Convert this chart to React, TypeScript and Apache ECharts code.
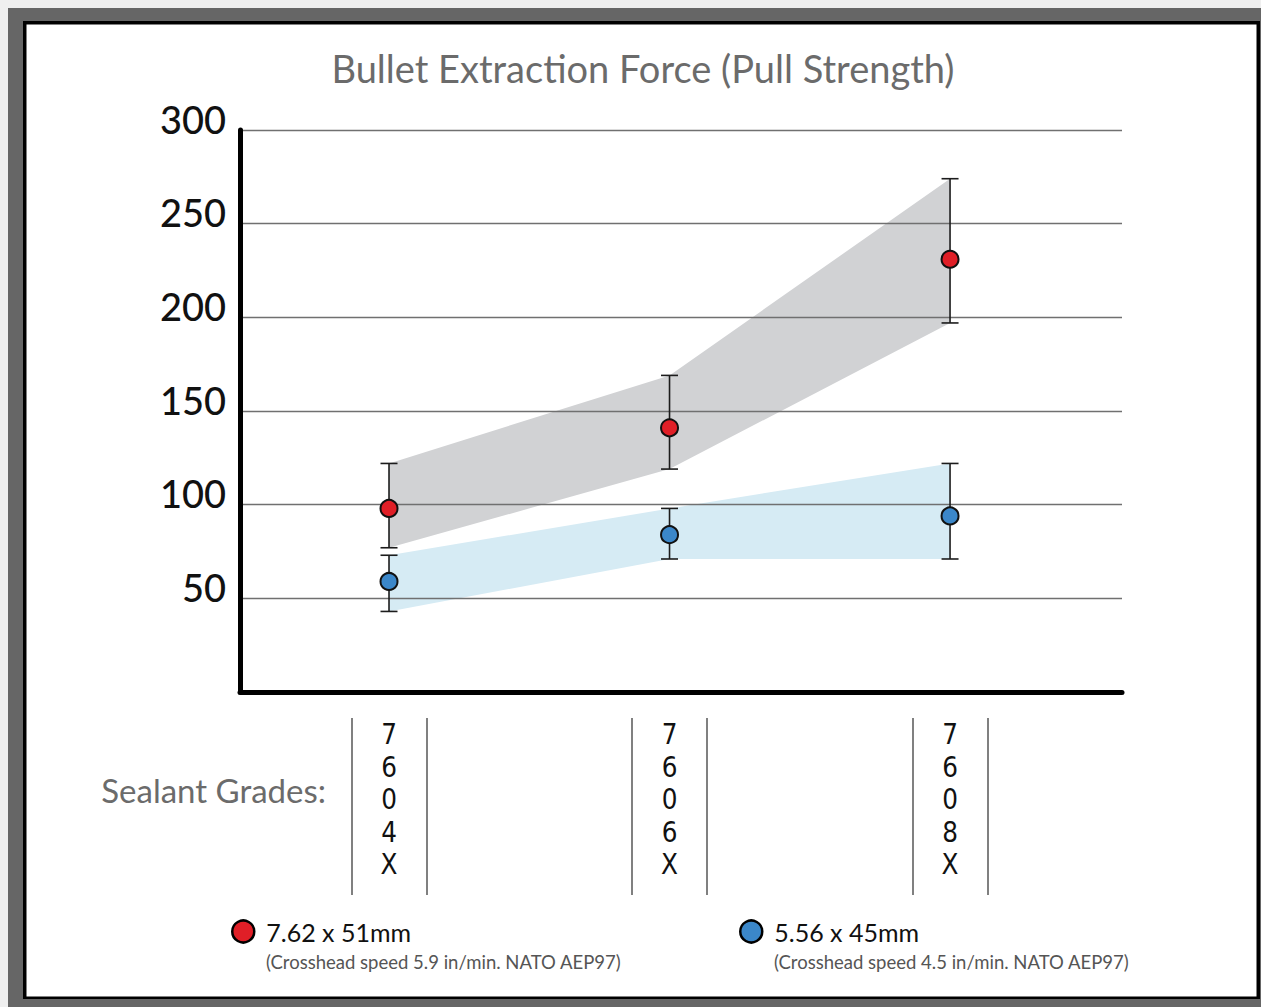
import React, { useEffect, useRef } from "react";
import * as echarts from "echarts";

// ---- data ----
const grades = ["7604X", "7606X", "7608X"];
const gradeX = [1, 2, 3];
const yTicks = [0, 50, 100, 150, 200, 250, 300];

const series762Name = "7.62 x 51mm";
const series762Note = "(Crosshead speed 5.9 in/min. NATO AEP97)";
const mean762 = [98, 141, 231];
const high762 = [122, 169, 274];
const low762 = [77, 119, 197];

const series556Name = "5.56 x 45mm";
const series556Note = "(Crosshead speed 4.5 in/min. NATO AEP97)";
const mean556 = [59, 84, 94];
const high556 = [73, 98, 122];
const low556 = [43, 71, 71];

const RED = "#e01f27";
const BLUE = "#3b87c9";
const GRAY_BAND = "#d1d2d4";
const BLUE_BAND = "#d6ebf4";
const FONT = "Lato, 'Open Sans', sans-serif";

const X_MIN = 0.4688;
const X_MAX = 3.613;
const SEP_HALF = 0.1337;

function bandSeries(low: number[], high: number[], color: string) {
  return {
    type: "custom",
    xAxisIndex: 0,
    yAxisIndex: 0,
    z: -5,
    silent: true,
    data: gradeX.map((x, i) => [x, low[i], high[i]]),
    encode: { x: 0, y: [1, 2] },
    renderItem: (params: any, api: any) => {
      if (params.dataIndex !== 0) return null;
      const top = gradeX.map((x, i) => api.coord([x, high[i]]));
      const bottom = gradeX.map((x, i) => api.coord([x, low[i]])).reverse();
      return {
        type: "polygon",
        shape: { points: [...top, ...bottom] },
        style: { fill: color },
      };
    },
  };
}

function errorSeries(low: number[], high: number[]) {
  return {
    type: "custom",
    xAxisIndex: 0,
    yAxisIndex: 0,
    z: 3,
    silent: true,
    data: gradeX.map((x, i) => [x, low[i], high[i]]),
    encode: { x: 0, y: [1, 2] },
    renderItem: (params: any, api: any) => {
      const x = api.value(0);
      const lo = api.coord([x, api.value(1)]);
      const hi = api.coord([x, api.value(2)]);
      const cap = 8.5;
      const st = { stroke: "#1c1c1c", lineWidth: 1.6 };
      return {
        type: "group",
        children: [
          { type: "line", shape: { x1: hi[0], y1: hi[1], x2: lo[0], y2: lo[1] }, style: st },
          { type: "line", shape: { x1: hi[0] - cap, y1: hi[1], x2: hi[0] + cap, y2: hi[1] }, style: st },
          { type: "line", shape: { x1: lo[0] - cap, y1: lo[1], x2: lo[0] + cap, y2: lo[1] }, style: st },
        ],
      };
    },
  };
}

function legendFor(name: string, left: number) {
  return {
    data: [name],
    left,
    top: 919,
    padding: 0,
    icon: "circle",
    itemWidth: 22,
    itemHeight: 22,
    itemStyle: { borderColor: "#000", borderWidth: 2.5 },
    textStyle: { fontSize: 25, color: "#111", fontFamily: FONT, padding: [0, 0, 0, 7] },
    selectedMode: false,
  };
}

export default function App() {
  const ref = useRef<HTMLDivElement>(null);
  useEffect(() => {
    document.body.style.margin = "0";
    const chart = echarts.init(ref.current!, null, { renderer: "svg" });
    chart.setOption({
      animation: false,
      backgroundColor: "#efefef",
      graphic: [
        { type: "rect", z: -20, silent: true, shape: { x: 8, y: 8, width: 1260, height: 1010 }, style: { fill: "#666666" } },
        { type: "rect", z: -19, silent: true, shape: { x: 23, y: 21, width: 1237, height: 978 }, style: { fill: "#000000" } },
        { type: "rect", z: -18, silent: true, shape: { x: 26.5, y: 24.5, width: 1230, height: 972 }, style: { fill: "#ffffff" } },
        {
          type: "text",
          x: 643,
          y: 68,
          style: {
            text: "Bullet Extraction Force (Pull Strength)",
            fill: "#6b6b6b",
            font: `normal 38px ${FONT}`,
            align: "center",
            verticalAlign: "middle",
          },
        },
        {
          type: "text",
          x: 326,
          y: 790,
          style: {
            text: "Sealant Grades:",
            fill: "#6b6b6b",
            font: `normal 33px ${FONT}`,
            align: "right",
            verticalAlign: "middle",
          },
        },
        {
          type: "text",
          x: 266,
          y: 962,
          style: { text: series762Note, fill: "#555", font: `normal 18.5px ${FONT}`, align: "left", verticalAlign: "middle" },
        },
        {
          type: "text",
          x: 774,
          y: 962,
          style: { text: series556Note, fill: "#555", font: `normal 18.5px ${FONT}`, align: "left", verticalAlign: "middle" },
        },
      ],
      legend: [legendFor(series762Name, 231), legendFor(series556Name, 739)],
      grid: { left: 240, right: 139, top: 130, bottom: 315 },
      xAxis: [
        {
          type: "value",
          min: X_MIN,
          max: X_MAX,
          axisLine: { show: true, lineStyle: { color: "#000", width: 5 } },
          axisTick: { show: false },
          splitLine: { show: false },
          axisLabel: {
            customValues: gradeX,
            formatter: (v: number) => {
              const i = gradeX.indexOf(Math.round(v));
              return i >= 0 ? grades[i].split("").join("\n") : "";
            },
            fontSize: 27.5,
            lineHeight: 32.5,
            color: "#111",
            fontFamily: "'DejaVu Sans Condensed', 'DejaVu Sans', sans-serif",
            fontWeight: 400,
            margin: 26,
          },
        },
        {
          type: "value",
          min: X_MIN,
          max: X_MAX,
          position: "bottom",
          offset: 26,
          axisLine: { show: false },
          axisTick: {
            show: true,
            customValues: gradeX.flatMap((x) => [x - SEP_HALF, x + SEP_HALF]),
            length: 177,
            lineStyle: { color: "#808080", width: 2 },
          },
          axisLabel: { show: false },
          splitLine: { show: false },
        },
      ],
      yAxis: {
        type: "value",
        min: yTicks[0],
        max: yTicks[yTicks.length - 1],
        interval: 50,
        axisLine: { show: true, lineStyle: { color: "#000", width: 5 } },
        axisTick: { show: false },
        splitLine: { show: true, lineStyle: { color: "#707070", width: 1.3 } },
        axisLabel: {
          showMinLabel: false,
          fontSize: 38,
          color: "#111",
          fontFamily: FONT,
          fontWeight: 500,
          margin: 14,
          verticalAlign: "bottom",
          lineHeight: 23,
        },
      },
      series: [
        bandSeries(low762, high762, GRAY_BAND),
        bandSeries(low556, high556, BLUE_BAND),
        errorSeries(low762, high762),
        errorSeries(low556, high556),
        {
          name: series762Name,
          type: "scatter",
          z: 5,
          symbolSize: 17,
          itemStyle: { color: RED, borderColor: "#111", borderWidth: 2, opacity: 1 },
          data: gradeX.map((x, i) => [x, mean762[i]]),
        },
        {
          name: series556Name,
          type: "scatter",
          z: 5,
          symbolSize: 17,
          itemStyle: { color: BLUE, borderColor: "#111", borderWidth: 2, opacity: 1 },
          data: gradeX.map((x, i) => [x, mean556[i]]),
        },
      ],
    });
    return () => chart.dispose();
  }, []);
  return <div ref={ref} style={{ width: 1261, height: 1007 }} />;
}
